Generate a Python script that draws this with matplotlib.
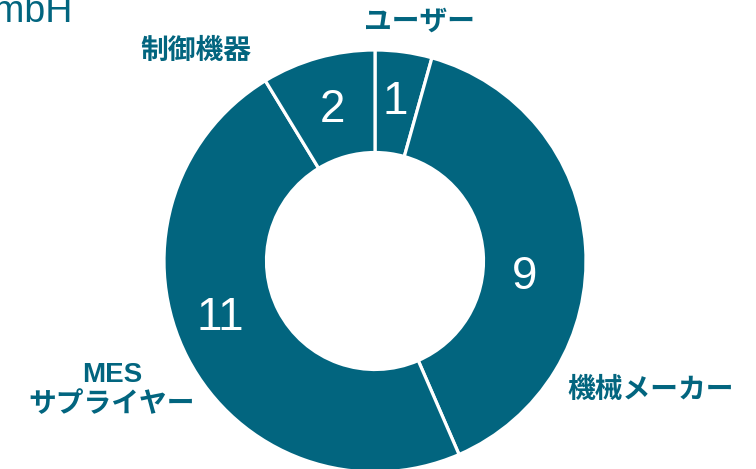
import matplotlib.pyplot as plt

# データ(時計回り、上から)
categories = ["ユーザー", "機械メーカー", "MES\nサプライヤー", "制御機器"]
counts = [1, 9, 11, 2]
title_text = "GmbH"

teal = "#02657f"
W, H = 756, 469

fig = plt.figure(figsize=(W / 100, H / 100), dpi=100)
ax = fig.add_axes([0, 0, 1, 1])

# ドーナツ(ピクセル座標で中心と半径を指定)
cx, cy, r = 375, H - 261, 211
wedges, _, autotexts = ax.pie(
    counts,
    startangle=90,
    counterclock=False,
    colors=[teal] * len(counts),
    center=(cx, cy),
    radius=r,
    frame=True,
    autopct=lambda p: f"{round(p * sum(counts) / 100):d}",
    pctdistance=160 / r,
    wedgeprops=dict(width=102.5, edgecolor="white", linewidth=2.3),
    textprops=dict(color="white", fontsize=33, family="Liberation Sans"),
)

# ラベルの微調整(px, 右/上)
label_shift = [(-2, 0), (-10, -27), (-13, 17), (1, -3)]
for t, (dx, dy) in zip(autotexts, label_shift):
    x, y = t.get_position()
    t.set_position((x + dx, y + dy))

# カテゴリ名
cat_pos = [(419, 23), (651, 391), (112, 390), (196, 52)]
for name, (x, y) in zip(categories, cat_pos):
    ax.text(x, H - y, name, ha="center", va="center", color=teal,
            fontsize=20, fontweight="bold", linespacing=1.2,
            family=["Liberation Sans", "Noto Sans CJK JP"])

# 切れたタイトル
ax.text(73, H - 22, title_text, ha="right", va="baseline", color=teal,
        fontsize=27, family="Liberation Sans")

ax.set_xlim(0, W)
ax.set_ylim(0, H)
ax.set_aspect("equal")
ax.axis("off")

fig.savefig("out.png", dpi=100)
